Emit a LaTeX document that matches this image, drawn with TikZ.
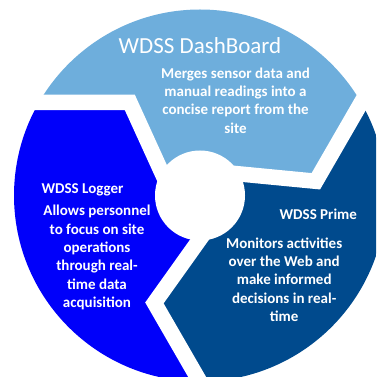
\documentclass[tikz,border=0pt]{standalone}
\usepackage{fontspec}
\setmainfont{Carlito}
\usetikzlibrary{calc}
\definecolor{segLight}{RGB}{110,174,220}
\definecolor{segBlue}{RGB}{0,0,250}
\definecolor{segDark}{RGB}{0,74,141}
\begin{document}
\begin{tikzpicture}[x=1pt,y=1pt,
  gapline/.style={draw=white, line width=15.5pt, line join=miter, miter limit=10},
  bodytext/.style={text=white, font=\fontsize{15}{18.4}\selectfont\bfseries, align=center, inner sep=0pt, anchor=base},
  titletext/.style={text=white, font=\fontsize{23}{27}\selectfont, inner sep=0pt, anchor=base}]
\useasboundingbox (0,0) rectangle (376,377);
\clip (0,0) rectangle (376,377);
% geometry
\coordinate (O) at (200,181.5);
\coordinate (V0) at ($(O)+(127:116.7)$);
\coordinate (V1) at ($(O)+(7:116.7)$);
\coordinate (V2) at ($(O)+(-113:116.7)$);
\coordinate (Fo0) at ($(V0)+(180:150)$);
\coordinate (Fo1) at ($(V1)+(60:150)$);
\coordinate (Fo2) at ($(V2)+(-60:150)$);
\coordinate (Fi0) at ($(V0)+(294.5:113.9)$);
\coordinate (Fi1) at ($(V1)+(174.5:113.9)$);
\coordinate (Fi2) at ($(V2)+(54.5:113.9)$);
\begin{scope}
  \clip (O) circle (186);
  \fill[segLight] (O) -- (Fi0) -- (V0) -- (Fo0) -- ($(O)+(150:400)$) -- ($(O)+(90:400)$) -- ($(O)+(40:400)$) -- (Fo1) -- (V1) -- (Fi1) -- cycle;
  \fill[segDark] (O) -- (Fi1) -- (V1) -- (Fo1) -- ($(O)+(30:400)$) -- ($(O)+(-30:400)$) -- ($(O)+(-80:400)$) -- (Fo2) -- (V2) -- (Fi2) -- cycle;
  \fill[segBlue] (O) -- (Fi2) -- (V2) -- (Fo2) -- ($(O)+(-90:400)$) -- ($(O)+(-150:400)$) -- ($(O)+(160:400)$) -- (Fo0) -- (V0) -- (Fi0) -- cycle;
\end{scope}
\draw[gapline] (Fo0) -- (V0) -- (Fi0);
\draw[gapline] (Fo1) -- (V1) -- (Fi1);
\draw[gapline] (Fo2) -- (V2) -- (Fi2);
\fill[white] (O) circle (45);
% texts (anchor base = baseline of last line)
\node[titletext] (tDash) at (200,323) {WDSS DashBoard};
\node[bodytext] (dDash) at (235.5,243.7) {Merges sensor data and\\manual readings into a\\concise report from the\\site};
\node[bodytext] (tLog) at (82.5,183.7) {WDSS Logger};
\node[bodytext] (dLog) at (97,69.3) {Allows personnel\\to focus on site\\operations\\through real-\\time data\\acquisition};
\node[bodytext] (tPrime) at (318.3,157.7) {WDSS Prime};
\node[bodytext] (dPrime) at (284.2,55.3) {Monitors activities\\over the Web and\\make informed\\decisions in real-\\time};
\end{tikzpicture}
\end{document}
